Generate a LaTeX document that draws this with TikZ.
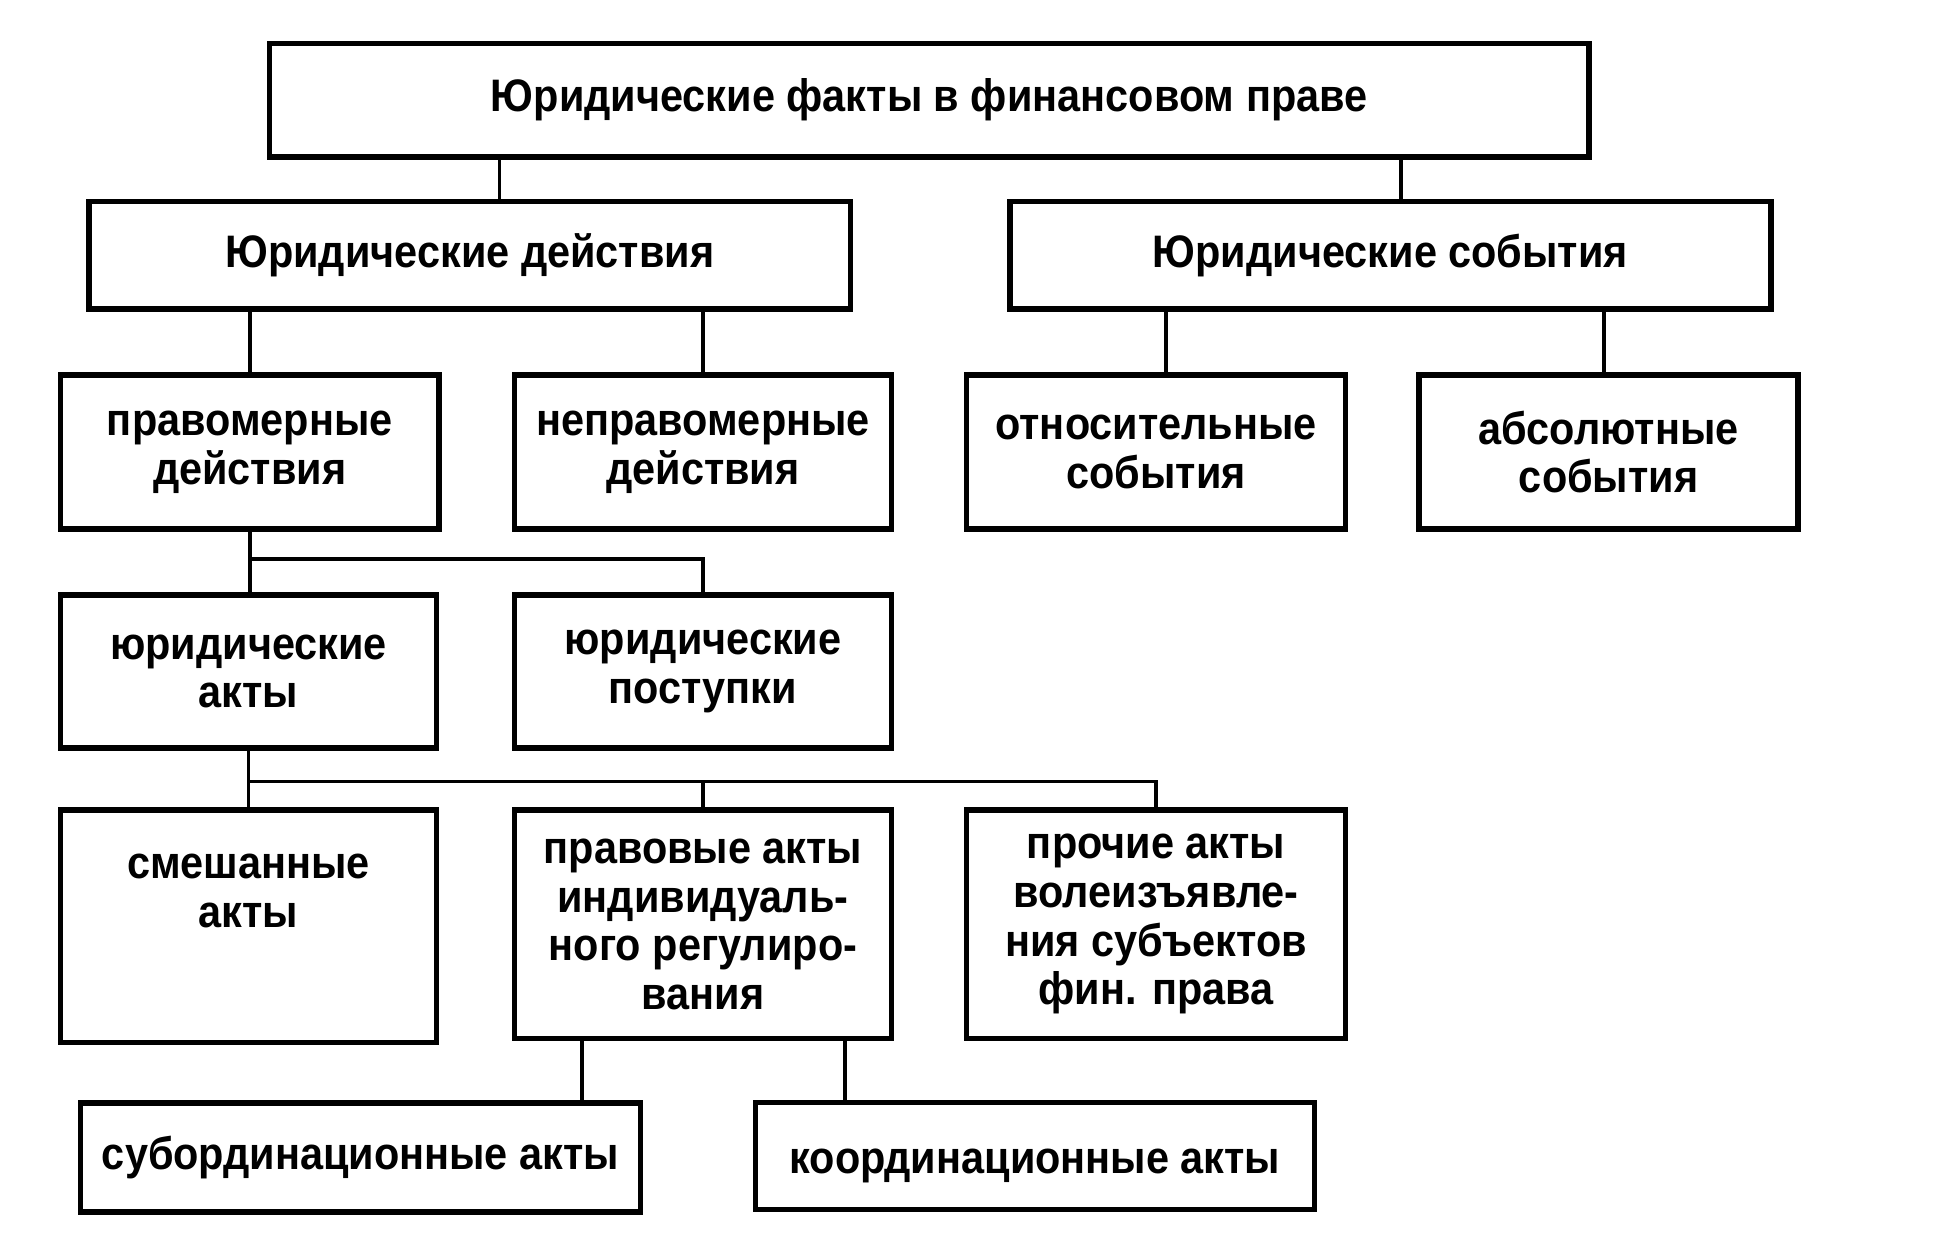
\documentclass[tikz,border=0pt]{standalone}
\usepackage{fontspec}
\setmainfont{Liberation Sans}[FakeStretch=0.91]
\usepackage{tikz}
\usetikzlibrary{calc}

\tikzset{
  factbox/.style={draw, line width=1.6pt, inner sep=0pt, align=center,
    font=\bfseries\fontsize{13.1}{14}\selectfont},
  link/.style={line width=1.1pt}
}

\begin{document}
\begin{tikzpicture}[x=0.125mm, y=-0.125mm]
            \useasboundingbox (0,0) rectangle (1569,1001);

            % Top box
            \node (facts) at (751.5,81) [factbox, minimum width=133.4mm, minimum height=11.5mm]
              {Юридические факты в финансовом праве};

            % Second level
            \node (deeds) at (380,206.5) [factbox, minimum width=77mm, minimum height=10.9mm]
              {Юридические действия};
            \node (events) at (1124.5,206.5) [factbox, minimum width=76.9mm, minimum height=10.9mm]
              {Юридические события};

            % Third level
            \node (lawful) at (202,365.5) [factbox, minimum width=38.3mm, minimum height=15.6mm]
              {правомерные\\действия};
            \node (unlawful) at (568.5,365.5) [factbox, minimum width=38.1mm, minimum height=15.6mm]
              {неправомерные\\действия};
            \node (relative) at (935,365.5) [factbox, minimum width=38.3mm, minimum height=15.6mm]
              {относительные\\события};
            \node (absolute) at (1301,365.5) [factbox, minimum width=38.3mm, minimum height=15.6mm]
              {абсолютные\\события};

            % Fourth level
            \node (jacts) at (201,543) [factbox, minimum width=38mm, minimum height=15.5mm]
              {юридические\\акты};
            \node (jdeeds) at (568.5,543) [factbox, minimum width=38.1mm, minimum height=15.5mm]
              {юридические\\поступки};

            % Fifth level
            \node (mixed) at (201,749) [factbox, minimum width=38mm, minimum height=23.5mm]
              {смешанные\\акты\\[6.5pt]\mbox{}};
            \node (indiv) at (568.5,747.5) [factbox, minimum width=38.1mm, minimum height=23.1mm]
              {правовые акты\\индивидуаль-\\ного регулиро-\\вания};
            \node (other) at (935,747.5) [factbox, minimum width=38.3mm, minimum height=23.1mm]
              {прочие акты\\волеизъявле-\\ния субъектов\\фин. права};

            % Bottom level
            \node (subord) at (291.5,936) [factbox, minimum width=56.6mm, minimum height=11mm]
              {субординационные акты};
            \node (coord) at (837,935) [factbox, text height=13pt, minimum width=56.5mm, minimum height=10.8mm]
              {координационные акты};

            % Bus points
            \coordinate (busA) at (0,452);
            \coordinate (busB) at (0,632);

            % Drawing links from top box
            \draw [link] ([xshift=3mm]deeds.north) -- ([xshift=3mm]deeds.north |- facts.south);
            \draw [link] ([xshift=1.1mm]events.north) -- ([xshift=1.1mm]events.north |- facts.south);

            % Drawing links from second level
            \draw [link] (deeds.south -| lawful) -- (lawful.north);
            \draw [link] (deeds.south -| unlawful) -- (unlawful.north);
            \draw [link] ([xshift=1mm]relative.north) -- ([xshift=1mm]relative.north |- events.south);
            \draw [link] ([xshift=-0.5mm]absolute.north) -- ([xshift=-0.5mm]absolute.north |- events.south);

            % Drawing links from lawful deeds
            \draw [link] (lawful.south) -- (lawful.south |- jacts.north);
            \draw [link] (lawful.south |- busA) -| (jdeeds.north);

            % Drawing links from legal acts
            \draw [link] (jacts.south) -- (jacts.south |- mixed.north);
            \draw [link] (jacts.south |- busB) -| (other.north);
            \draw [link] (indiv.north |- busB) -- (indiv.north);

            % Drawing links from individual acts
            \draw [link] ([xshift=-12.2mm]indiv.south) -- ([xshift=-12.2mm]indiv.south |- subord.north);
            \draw [link] ([xshift=14.4mm]indiv.south) -- ([xshift=14.4mm]indiv.south |- coord.north);
\end{tikzpicture}
\end{document}
